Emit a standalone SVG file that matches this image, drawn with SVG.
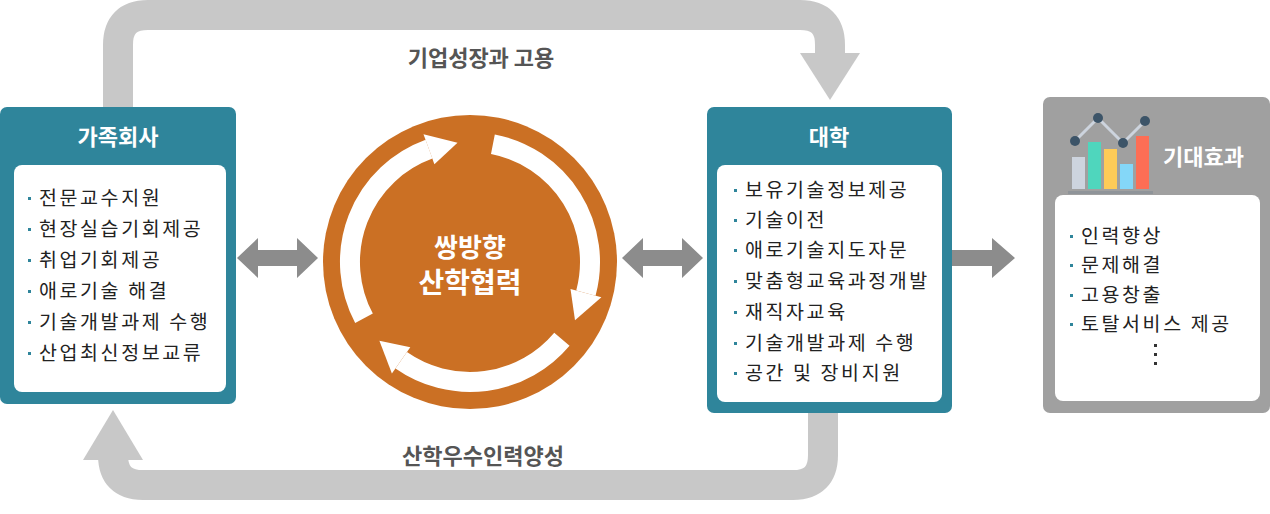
<svg xmlns="http://www.w3.org/2000/svg" width="1270" height="514" viewBox="0 0 1270 514">
<style>
text{font-family:"Noto Sans CJK KR","Noto Sans",sans-serif}
.hd{fill:#fff;font-size:22px;font-weight:bold}
.it{fill:#222;font-size:19.5px;letter-spacing:2.6px}
.lb{fill:#555;font-size:22px;font-weight:bold}
.teal{fill:#2f859b}
.bul{fill:#2f859b}
.loop{fill:none;stroke:#c8c8c8;stroke-width:30}
.dbl{fill:#8c8c8c}
.warc{fill:none;stroke:#fff;stroke-width:20}
</style>
<rect width="1270" height="514" fill="#fff"/>
<g id="connectors">
<path class="loop" d="M118,107 V45 Q118,15 148,15 H800 Q830,15 830,45 V55"/>
<polygon fill="#c8c8c8" points="800,53 860,53 830,100"/>
<path class="loop" d="M823,413 V455 Q823,485 793,485 H143 Q113,485 113,455 V455"/>
<polygon fill="#c8c8c8" points="83,460 143,460 113,410"/>
<polygon class="dbl" points="237,258 258,238 258,250 297,250 297,238 318,258 297,278 297,266 258,266 258,278"/>
<polygon class="dbl" points="622,258 643,238 643,250 682,250 682,238 703,258 682,278 682,266 643,266 643,278"/>
<polygon class="dbl" points="952,250 992,250 992,238 1015,258 992,278 992,266 952,266"/>
</g>
<g id="label-top"><text class="lb" x="481" y="66" text-anchor="middle">기업성장과 고용</text></g>
<g id="label-bottom"><text class="lb" x="483" y="464" text-anchor="middle">산학우수인력양성</text></g>
<g id="node-family">
<rect class="teal" x="0" y="107" width="236" height="297" rx="7"/>
<text class="hd" x="118" y="145" text-anchor="middle">가족회사</text>
<rect x="14" y="165" width="212" height="227" rx="8" fill="#fff"/>
<g class="bul"><rect x="28" y="197" width="3" height="3"/><rect x="28" y="228" width="3" height="3"/><rect x="28" y="259" width="3" height="3"/><rect x="28" y="290" width="3" height="3"/><rect x="28" y="321" width="3" height="3"/><rect x="28" y="352" width="3" height="3"/></g>
<text class="it" x="39" y="205">전문교수지원</text>
<text class="it" x="39" y="236">현장실습기회제공</text>
<text class="it" x="39" y="267">취업기회제공</text>
<text class="it" x="39" y="298">애로기술 해결</text>
<text class="it" x="39" y="329">기술개발과제 수행</text>
<text class="it" x="39" y="360">산업최신정보교류</text>
</g>
<g id="node-center">
<circle cx="470" cy="262" r="147" fill="#cb7024"/>
<path class="warc" d="M364,318.3 A120,120 0 0 1 429,149.2"/>
<polygon fill="#fff" points="434.4,164.3 423.5,134.2 457.5,142.7"/>
<path class="warc" d="M492.9,144.2 A120,120 0 0 1 585.9,293.1"/>
<polygon fill="#fff" points="570.5,288.9 601.4,297.2 575,320.2"/>
<path class="warc" d="M561.9,339.2 A120,120 0 0 1 401.2,360.3"/>
<polygon fill="#fff" points="410.3,347.2 391.9,373.4 379.4,340.7"/>
<text x="470" y="257" text-anchor="middle" fill="#fff" font-size="26" font-weight="bold">쌍방향</text>
<text x="470" y="293" text-anchor="middle" fill="#fff" font-size="28" font-weight="bold">산학협력</text>
</g>
<g id="node-univ">
<rect class="teal" x="707" y="107" width="245" height="306" rx="7"/>
<text class="hd" x="829" y="145" text-anchor="middle">대학</text>
<rect x="717" y="165" width="225" height="237" rx="8" fill="#fff"/>
<g class="bul"><rect x="734" y="189" width="3" height="3"/><rect x="734" y="219" width="3" height="3"/><rect x="734" y="249" width="3" height="3"/><rect x="734" y="280" width="3" height="3"/><rect x="734" y="311" width="3" height="3"/><rect x="734" y="342" width="3" height="3"/><rect x="734" y="372" width="3" height="3"/></g>
<text class="it" x="745" y="197">보유기술정보제공</text>
<text class="it" x="745" y="227">기술이전</text>
<text class="it" x="745" y="257">애로기술지도자문</text>
<text class="it" x="745" y="288">맞춤형교육과정개발</text>
<text class="it" x="745" y="319">재직자교육</text>
<text class="it" x="745" y="350">기술개발과제 수행</text>
<text class="it" x="745" y="380">공간 및 장비지원</text>
</g>
<g id="node-effect">
<rect x="1043" y="97" width="227" height="316" rx="7" fill="#a0a0a0"/>
<rect x="1068" y="191" width="85" height="3" fill="#8f9499"/>
<rect x="1072" y="157" width="13" height="32" fill="#cdd4de"/>
<rect x="1088" y="142" width="13" height="47" fill="#4fd6bd"/>
<rect x="1104" y="149" width="13" height="40" fill="#fecb58"/>
<rect x="1120" y="164" width="13" height="25" fill="#84d7f8"/>
<rect x="1136" y="136" width="13" height="53" fill="#fd6e55"/>
<polyline points="1075,141 1098,118 1123,143 1145,121" fill="none" stroke="#cdd4de" stroke-width="3"/>
<g fill="#3c5468"><circle cx="1075" cy="141" r="5"/><circle cx="1098" cy="118" r="5"/><circle cx="1123" cy="143" r="5"/><circle cx="1145" cy="121" r="5"/></g>
<text class="hd" x="1163" y="165">기대효과</text>
<rect x="1055" y="195" width="205" height="206" rx="8" fill="#fff"/>
<g class="bul"><rect x="1070" y="235" width="3" height="3"/><rect x="1070" y="264" width="3" height="3"/><rect x="1070" y="294" width="3" height="3"/><rect x="1070" y="323" width="3" height="3"/></g>
<text class="it" x="1081" y="243">인력향상</text>
<text class="it" x="1081" y="272">문제해결</text>
<text class="it" x="1081" y="302">고용창출</text>
<text class="it" x="1081" y="331">토탈서비스 제공</text>
<g fill="#333"><rect x="1154" y="344" width="3" height="3"/><rect x="1154" y="353" width="3" height="3"/><rect x="1154" y="362" width="3" height="3"/></g>
</g>
</svg>
